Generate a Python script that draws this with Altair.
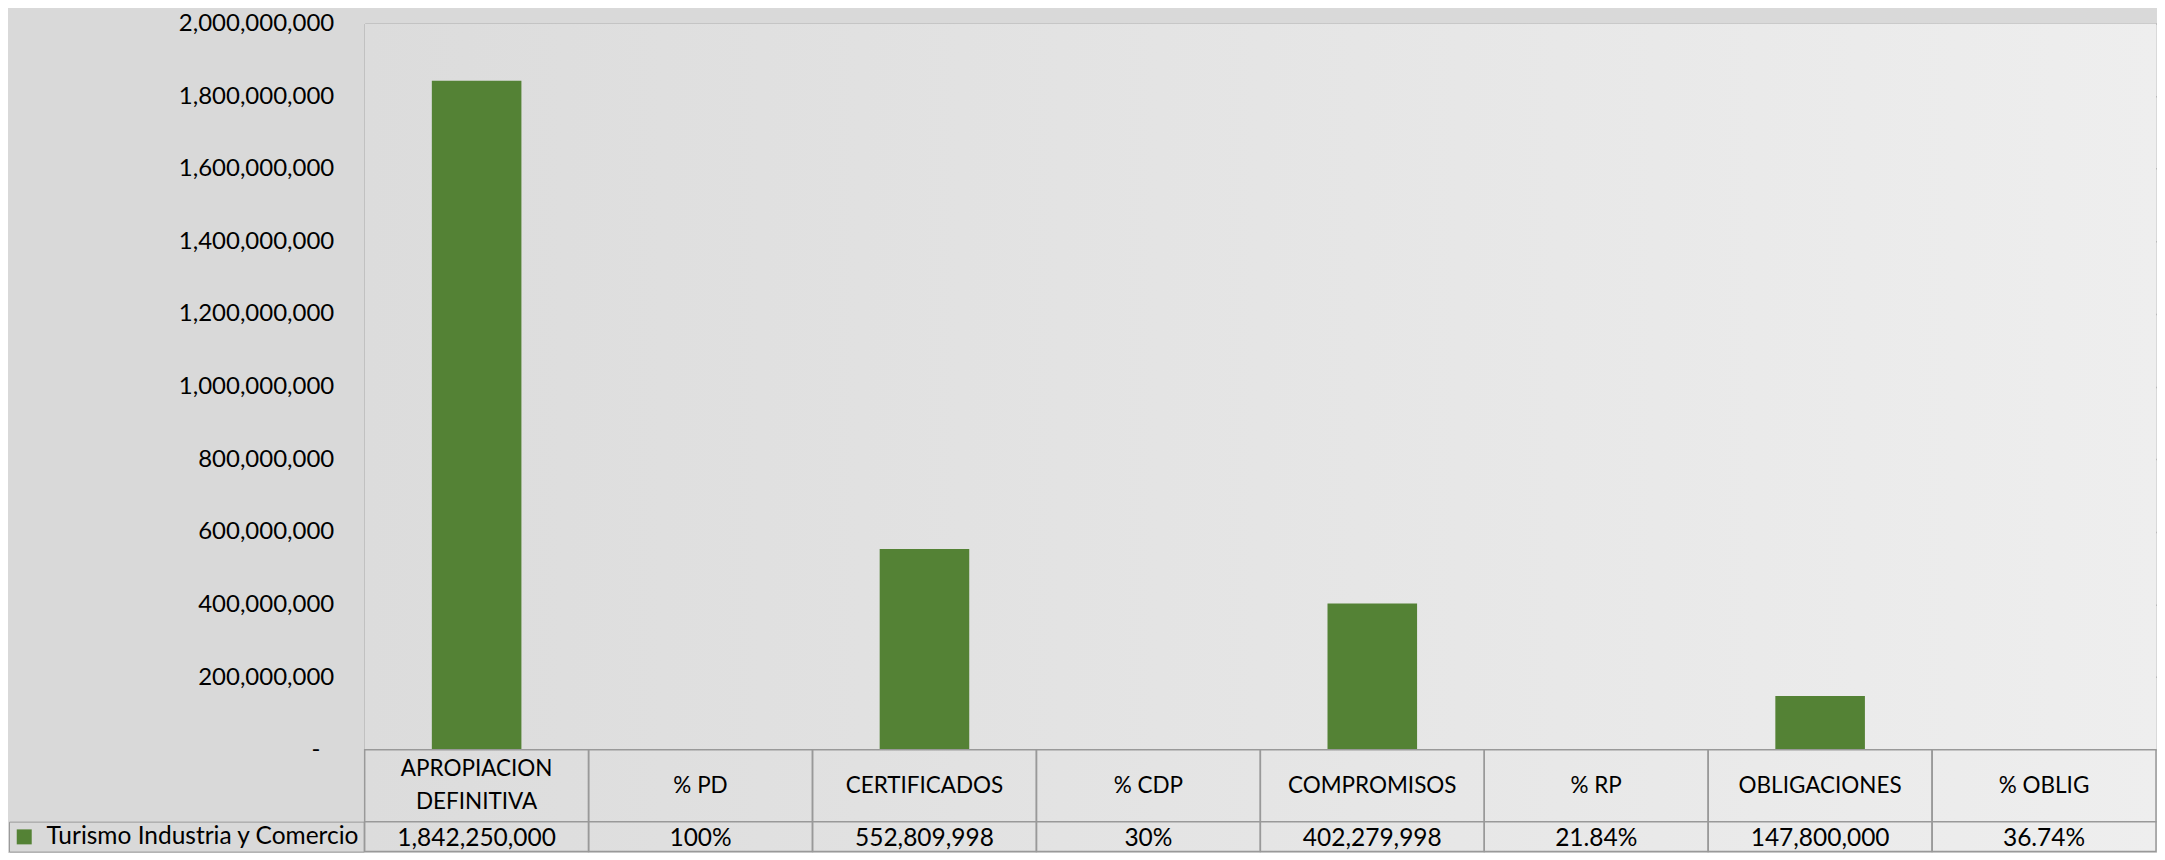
import altair as alt
import pandas as pd

# ---- data ----
categories = ["APROPIACION\nDEFINITIVA", "% PD", "CERTIFICADOS", "% CDP",
              "COMPROMISOS", "% RP", "OBLIGACIONES", "% OBLIG"]
values = [1842250000, 1.0, 552809998, 0.30, 402279998, 0.2184, 147800000, 0.3674]
table_labels = ["1,842,250,000", "100%", "552,809,998", "30%",
                "402,279,998", "21.84%", "147,800,000", "36.74%"]
series_name = "Turismo Industria y Comercio"
y_ticks = [0, 200000000, 400000000, 600000000, 800000000, 1000000000,
           1200000000, 1400000000, 1600000000, 1800000000, 2000000000]

df = pd.DataFrame({
    "cat": categories,
    "value": values,
    "label": table_labels,
    "series": [series_name] * len(categories),
})
bg_df = pd.DataFrame({"panel": [0]})

FONT = "Lato"
GREEN = "#548235"
GRID = "#999999"
W = 1793
BAR_H = 727
HEAD_H = 72
VAL_H = 30

bg_fill = alt.LinearGradient(
    gradient="linear", x1=0, y1=0, x2=1, y2=0,
    stops=[alt.GradientStop(color="#dcdcdc", offset=0),
           alt.GradientStop(color="#eeeeee", offset=1)],
)


def panel(h):
    return alt.Chart(bg_df).mark_rect(color=bg_fill).encode(
        x=alt.value(0), x2=alt.value(W), y=alt.value(0), y2=alt.value(h)
    )


bars = alt.Chart(df).mark_bar(color=GREEN).encode(
    x=alt.X("cat:N", sort=categories, axis=None,
            scale=alt.Scale(paddingInner=0.6, paddingOuter=0.3)),
    y=alt.Y("value:Q", scale=alt.Scale(domain=[0, 2000000000]),
            axis=alt.Axis(values=y_ticks, title=None, grid=True, gridColor=GRID,
                          gridWidth=1.5, domain=True, domainColor=GRID, domainWidth=1.5,
                          ticks=False, labelPadding=31, labelFont=FONT, labelFontSize=24,
                          labelColor="black",
                          labelExpr="datum.value == 0 ? '-\u2007\u200b' : format(datum.value, ',')")),
)
bar_chart = alt.layer(panel(BAR_H), bars).properties(width=W, height=BAR_H)

xt = alt.X("cat:N", sort=categories, axis=None,
           scale=alt.Scale(paddingInner=0, paddingOuter=0))

head_base = alt.Chart(df).encode(x=xt)
header = alt.layer(
    panel(HEAD_H),
    head_base.mark_rect(filled=False, color=GRID, strokeWidth=1.5),
    head_base.transform_filter("indexof(datum.cat, '\\n') < 0").mark_text(
        font=FONT, fontSize=22.5, color="black", baseline="middle"
    ).encode(text="cat:N"),
    head_base.transform_filter("indexof(datum.cat, '\\n') >= 0").mark_text(
        font=FONT, fontSize=22.5, color="black", lineBreak="\n",
        lineHeight=33, baseline="middle", dy=-16.5
    ).encode(text="cat:N"),
).properties(width=W, height=HEAD_H)

val_base = alt.Chart(df).encode(x=xt)
value_row = alt.layer(
    panel(VAL_H),
    val_base.mark_rect(filled=False, color=GRID, strokeWidth=1.5),
    val_base.mark_text(font=FONT, fontSize=24.5, color="black", dy=2).encode(text="label:N"),
    val_base.mark_square(opacity=0, size=0).encode(
        color=alt.Color("series:N", scale=alt.Scale(range=[GREEN]),
                        legend=alt.Legend(title=None, orient="none", legendX=-356, legendY=0,
                                          symbolType="square", symbolSize=225,
                                          symbolOpacity=1, symbolStrokeWidth=0,
                                          labelFont=FONT, labelFontSize=24.5, labelColor="black",
                                          labelOffset=10, labelLimit=400, padding=3,
                                          strokeColor=GRID))
    ),
).properties(width=W, height=VAL_H)

chart = alt.vconcat(bar_chart, header, value_row, spacing=0, bounds="flush").resolve_legend(
    color="independent"
).properties(
    padding={"left": 0, "top": 3, "right": 0, "bottom": 0}
).configure(
    background="#d9d9d9"
).configure_view(stroke=None)

chart.save("out.html", embed_options={"renderer": "svg", "actions": False})
